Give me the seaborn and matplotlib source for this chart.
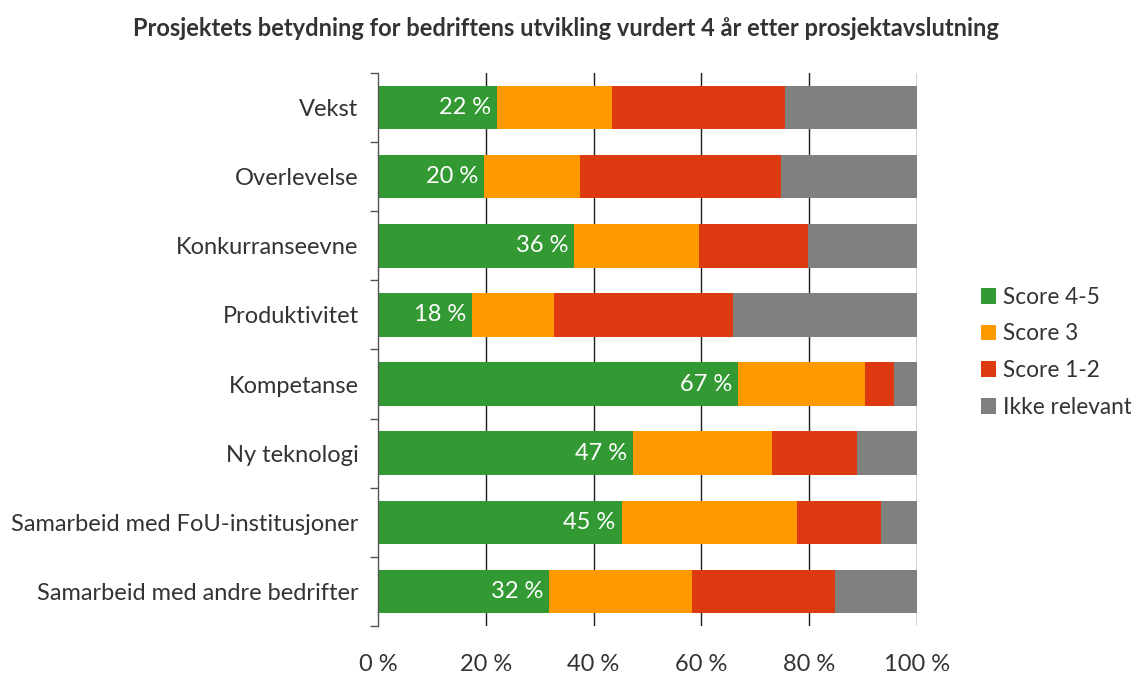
import numpy as np
import pandas as pd
import seaborn as sns
import matplotlib.pyplot as plt
from matplotlib.patches import Patch
from matplotlib.ticker import FixedLocator

categories = ['Vekst', 'Overlevelse', 'Konkurranseevne', 'Produktivitet',
              'Kompetanse', 'Ny teknologi', 'Samarbeid med FoU-institusjoner',
              'Samarbeid med andre bedrifter']
score_45 = [22.1, 19.7, 36.4, 17.5, 66.8, 47.3, 45.2, 31.7]
score_3 = [21.3, 17.8, 23.1, 15.1, 23.5, 25.8, 32.5, 26.6]
score_12 = [32.1, 37.2, 20.2, 33.2, 5.5, 15.7, 15.7, 26.4]
series = ['Score 4-5', 'Score 3', 'Score 1-2', 'Ikke relevant']
colors = ['#339933', '#FF9900', '#DD3A12', '#808080']
x_ticks = [0, 20, 40, 60, 80, 100]

text_col = '#333333'

df = pd.DataFrame({'kategori': categories, 'g': score_45, 'o': score_3, 'r': score_12})
df['ikke'] = 100 - df['g'] - df['o'] - df['r']
df['c1'] = df['g']
df['c2'] = df['c1'] + df['o']
df['c3'] = df['c2'] + df['r']
df['c4'] = df['c3'] + df['ikke']

sns.set_style('white')
plt.rcParams['font.family'] = ['Lato', 'DejaVu Sans']

fig = plt.figure(figsize=(11.31, 6.75), dpi=100)
ax = fig.add_axes([0.3342, 0.0726, 0.8108 - 0.3342, 0.8919 - 0.0726])

# overlay the cumulative sums, widest first
for col, c in zip(['c4', 'c3', 'c2', 'c1'], colors[::-1]):
    sns.barplot(data=df, x=col, y='kategori', orient='h', color=c,
                width=0.63, saturation=1, linewidth=0, ax=ax, zorder=2)

for i, v in enumerate(score_45):
    ax.text(v - 1.1, i, '{} %'.format(int(round(v))), color='white',
            ha='right', va='center', fontsize=17, zorder=3)

ax.set_xlim(0, 100)
ax.set_ylim(7.5, -0.5)
ax.set_xticks(x_ticks)
ax.set_xticklabels(['{} %'.format(t) for t in x_ticks])
ax.set_xlabel('')
ax.set_ylabel('')
for t in x_ticks[1:]:
    ax.axvline(t, color='#1a1a1a', lw=1.0, zorder=1)

for s in ['top', 'right', 'bottom']:
    ax.spines[s].set_visible(False)
ax.spines['left'].set_color('#555555')
ax.spines['left'].set_linewidth(1.0)
ax.spines['left'].set_zorder(4)

ax.yaxis.set_minor_locator(FixedLocator(np.arange(-0.5, 8, 1)))
ax.tick_params(axis='y', which='minor', length=6, width=1, color='#555555', left=True)
ax.tick_params(axis='y', which='major', length=0, pad=14, labelsize=17, labelcolor=text_col)
ax.tick_params(axis='x', length=0, pad=20, labelsize=17, labelcolor=text_col)

fig.suptitle('Prosjektets betydning for bedriftens utvikling vurdert 4 år etter prosjektavslutning',
             x=0.5, y=0.975, fontsize=17, fontweight='bold', color=text_col)

handles = [Patch(facecolor=c, edgecolor='none') for c in colors]
fig.legend(handles, series, loc='center left', bbox_to_anchor=(0.857, 0.478),
           frameon=False, fontsize=16.3, handlelength=0.7, handleheight=0.7,
           handletextpad=0.3, labelspacing=0.7, borderpad=0, labelcolor=text_col)

fig.savefig('out.png', dpi=100)
